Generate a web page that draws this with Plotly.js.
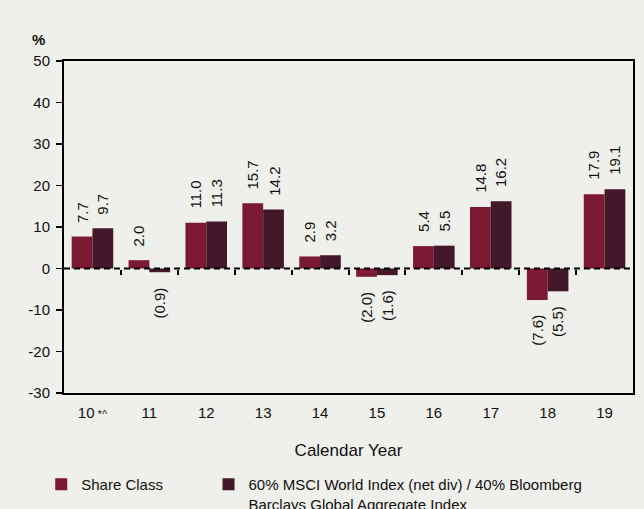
<!DOCTYPE html>
<html>
<head>
<meta charset="utf-8">
<script src="https://cdn.plot.ly/plotly-3.0.1.min.js"></script>
<style>
  html, body { margin: 0; padding: 0; background: #efefeb; }
  #chart { width: 644px; height: 509px; }
</style>
</head>
<body>
<div id="chart"></div>
<script>
var categories = ["10*^", "11", "12", "13", "14", "15", "16", "17", "18", "19"];
var tickLabels = ["10<span style='font-size:11px'> *^</span>", "11", "12", "13", "14", "15", "16", "17", "18", "19"];
var shareClass = [7.7, 2.0, 11.0, 15.7, 2.9, -2.0, 5.4, 14.8, -7.6, 17.9];
var benchmark = [9.7, -0.9, 11.3, 14.2, 3.2, -1.6, 5.5, 16.2, -5.5, 19.1];
var seriesNames = ["Share Class", "60% MSCI World Index (net div) / 40% Bloomberg<br>Barclays Global Aggregate Index"];
var seriesColors = ["#7b1834", "#44182b"];
var yTickVals = [-30, -20, -10, 0, 10, 20, 30, 40, 50];
var yTickText = ["-30", "-20", "-10", "0", "10", "20", "30", "40", "50"];
var boundaries = [0.5, 1.5, 2.5, 3.5, 4.5, 5.5, 6.5, 7.5, 8.5];

var xIdx = categories.map(function (c, i) { return i; });

function fmt(v) {
  return v < 0 ? "(" + Math.abs(v).toFixed(1) + ")" : v.toFixed(1);
}

var traces = [shareClass, benchmark].map(function (vals, s) {
  return {
    type: "bar",
    x: xIdx,
    y: vals,
    name: seriesNames[s],
    legend: s === 0 ? "legend" : "legend2",
    marker: { color: seriesColors[s], line: { width: 0 } },
    hoverinfo: "skip"
  };
});
// helper trace for the tick marks along the zero line
traces.push({
  type: "scatter", x: [], y: [], xaxis: "x2", yaxis: "y",
  showlegend: false, hoverinfo: "skip"
});

var annotations = [];
[shareClass, benchmark].forEach(function (vals, s) {
  vals.forEach(function (v, i) {
    annotations.push({
      x: i, y: v, xref: "x", yref: "y",
      xshift: s === 0 ? -10.5 : 10.5,
      yshift: v >= 0 ? 12 : -13,
      text: fmt(v), textangle: -90,
      xanchor: "center", yanchor: v >= 0 ? "bottom" : "top",
      showarrow: false,
      font: { family: "Liberation Sans, Arial, sans-serif", size: 15, color: "#111" }
    });
  });
});
annotations.push({
  text: "<b>%</b>", xref: "paper", yref: "paper", x: -0.045, y: 1,
  xanchor: "center", yanchor: "bottom", yshift: 11, showarrow: false,
  font: { family: "Liberation Sans, Arial, sans-serif", size: 15, color: "#111" }
});

var legendCommon = {
  orientation: "h", xanchor: "left", yanchor: "top", valign: "top",
  font: { size: 15, color: "#111" }, bgcolor: "rgba(0,0,0,0)",
  xref: "paper", yref: "paper"
};

var layout = {
  width: 644, height: 509,
  margin: { l: 64, r: 11, t: 61, b: 116, autoexpand: false },
  paper_bgcolor: "#efefeb",
  plot_bgcolor: "#efefeb",
  font: { family: "Liberation Sans, Arial, sans-serif", size: 15, color: "#111" },
  barmode: "group",
  bargap: 0.27,
  bargroupgap: 0,
  showlegend: true,
  legend: Object.assign({}, legendCommon, { x: -0.04, y: -0.226 }),
  legend2: Object.assign({}, legendCommon, { x: 0.254, y: -0.226 }),
  xaxis: {
    type: "linear", range: [-0.5, 9.5],
    tickvals: xIdx, ticktext: tickLabels,
    ticks: "", showgrid: false, zeroline: false,
    showline: true, linecolor: "#000", linewidth: 2, mirror: true,
    tickfont: { size: 15 }, ticklabelstandoff: 5,
    title: { text: "Calendar Year", font: { size: 17 }, standoff: 24 },
    automargin: false, fixedrange: true
  },
  xaxis2: {
    type: "linear", range: [-0.5, 9.5], overlaying: "x", anchor: "free",
    position: 0.375, tickvals: boundaries, ticks: "outside", ticklen: 5,
    tickwidth: 2, tickcolor: "#000",
    showticklabels: false, showgrid: false, zeroline: false, showline: false
  },
  yaxis: {
    range: [-30, 50], tickvals: yTickVals, ticktext: yTickText,
    ticks: "outside", ticklen: 6, tickwidth: 1.5,
    tickcolor: "#000", showgrid: false, zeroline: false,
    showline: true, linecolor: "#000", linewidth: 2, mirror: true,
    tickfont: { size: 15 }, ticklabelstandoff: 3, automargin: false, fixedrange: true
  },
  shapes: [{
    type: "line", xref: "paper", x0: 0, x1: 1, yref: "y", y0: 0, y1: 0,
    line: { color: "#000", width: 2, dash: "6px,4px" }, layer: "above"
  }],
  annotations: annotations
};

Plotly.newPlot("chart", traces, layout, { displayModeBar: false, staticPlot: true });
</script>
</body>
</html>
